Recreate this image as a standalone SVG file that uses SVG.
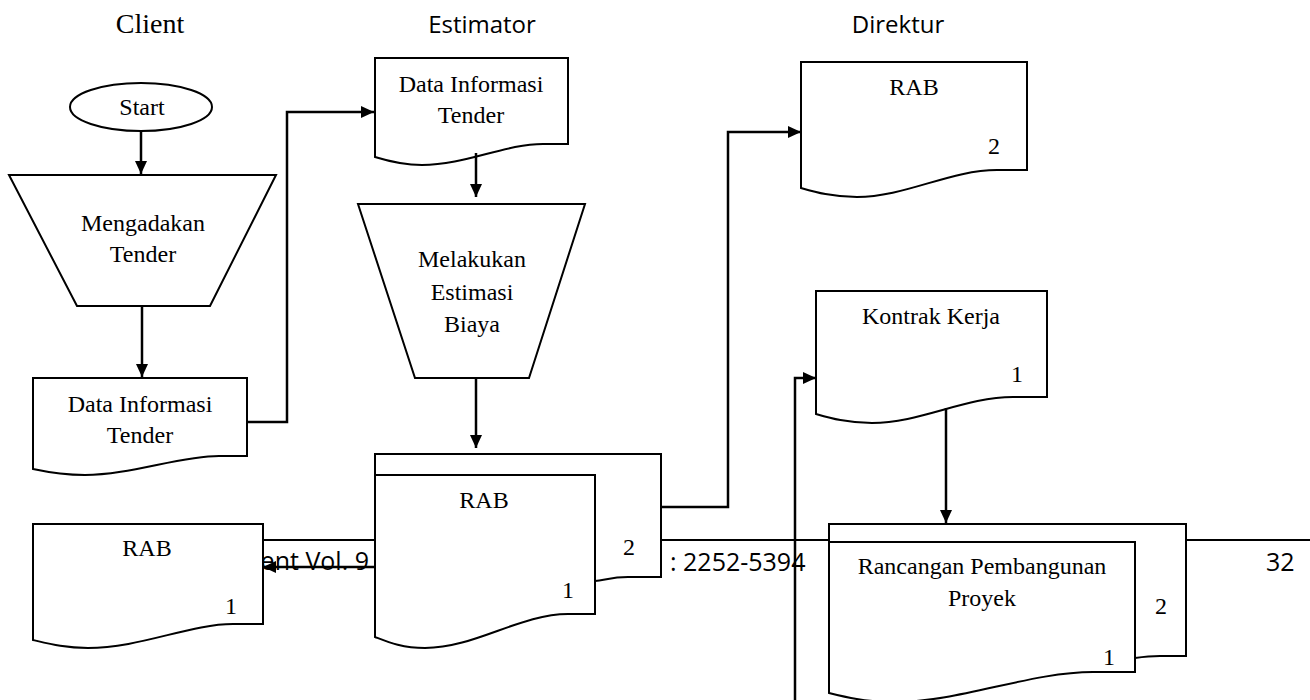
<svg xmlns="http://www.w3.org/2000/svg" width="1310" height="700" viewBox="0 0 1310 700">
<style>
.bg{fill:#fff}
.sh{fill:#fff;stroke:#000;stroke-width:2;stroke-linejoin:miter}
.t{font-family:"Liberation Serif","Times New Roman",serif;font-size:24px;fill:#000;text-anchor:middle}
.h{font-family:"Open Sans","Liberation Sans",sans-serif;font-size:24px;fill:#000;text-anchor:middle}
.f{font-family:"Open Sans","Liberation Sans",sans-serif;font-size:25px;fill:#000}
.c{fill:none;stroke:#000;stroke-width:2.5}
.ln{fill:none;stroke:#000;stroke-width:2}
</style>
<defs>
<marker id="ah" markerUnits="userSpaceOnUse" markerWidth="14" markerHeight="14" viewBox="0 0 14 14" refX="13" refY="7" orient="auto">
<path d="M0,1 L13,7 L0,13 Z" fill="#000"/>
</marker>
</defs>
<rect class="bg" x="0" y="0" width="1310" height="700"/>

<g id="page-footer">
<line class="ln" x1="40" y1="540" x2="1310" y2="540"/>
<text class="f" x="369" y="570" text-anchor="end">ent Vol. 9</text>
<text class="f" x="670" y="571">: 2252-5394</text>
<text class="f" x="1266" y="571">32</text>
</g>

<g id="lanes">
<text class="t" x="150" y="33" style="font-size:28px">Client</text>
<text class="h" x="482" y="33">Estimator</text>
<text class="h" x="898" y="33">Direktur</text>
</g>

<g id="start">
<ellipse class="sh" cx="141" cy="107" rx="71" ry="24"/>
<text class="t" x="142" y="115">Start</text>
</g>

<g id="mengadakan-tender">
<polygon class="sh" points="9,175 276,175 210,306 77,306"/>
<text class="t" x="143" y="231">Mengadakan</text>
<text class="t" x="143" y="262">Tender</text>
</g>

<g id="client-data-informasi">
<path class="sh" d="M33,378 H247 V456 H219 C180,456 130,475 85,475 C62,475 47,472 33,469 Z"/>
<text class="t" x="140" y="412">Data Informasi</text>
<text class="t" x="140" y="443">Tender</text>
</g>

<g id="client-rab">
<path class="sh" d="M33,524 H263 V624 H233 C190,624 140,648 88,648 C65,648 50,644 33,640 Z"/>
<text class="t" x="147" y="556">RAB</text>
<text class="t" x="231" y="614">1</text>
</g>

<g id="estimator-data-informasi">
<path class="sh" d="M375,58 H568 V144 H543 C505,144 465,165 422,165 C402,165 388,161 375,157 Z"/>
<text class="t" x="471" y="92">Data Informasi</text>
<text class="t" x="471" y="123">Tender</text>
</g>

<g id="melakukan-estimasi">
<polygon class="sh" points="358,204 585,204 529,378 415,378"/>
<text class="t" x="472" y="267">Melakukan</text>
<text class="t" x="472" y="300">Estimasi</text>
<text class="t" x="472" y="332">Biaya</text>
</g>

<g id="estimator-rab">
<path class="sh" d="M375,475 V454 H661 V577 H628 C612,577 605,580 595,581 Z"/>
<path class="sh" d="M375,475 H595 V614 H568 C520,614 475,648 425,648 C402,648 388,642 375,637 Z"/>
<text class="t" x="484" y="508">RAB</text>
<text class="t" x="629" y="555">2</text>
<text class="t" x="568" y="598">1</text>
</g>

<g id="direktur-rab">
<path class="sh" d="M801,62 H1027 V170 H997 C950,170 905,197 857,197 C832,197 815,192 801,188 Z"/>
<text class="t" x="914" y="95">RAB</text>
<text class="t" x="994" y="154">2</text>
</g>

<g id="kontrak-kerja">
<path class="sh" d="M816,291 H1047 V397 H1013 C965,397 920,423 872,423 C847,423 830,418 816,414 Z"/>
<text class="t" x="931" y="324">Kontrak Kerja</text>
<text class="t" x="1017" y="382">1</text>
</g>

<g id="rancangan-pembangunan">
<path class="sh" d="M829,542 V524 H1186 V656 H1160 C1150,656 1142,657 1135,658 Z"/>
<path class="sh" d="M829,542 H1135 V672 H1093 C1030,672 960,702 895,702 C865,702 845,697 829,693 Z"/>
<text class="t" x="982" y="574">Rancangan Pembangunan</text>
<text class="t" x="982" y="606">Proyek</text>
<text class="t" x="1161" y="614">2</text>
<text class="t" x="1109" y="665">1</text>
</g>

<g id="connectors">
<path class="c" d="M141,131 V174" marker-end="url(#ah)"/>
<path class="c" d="M142,306 V377" marker-end="url(#ah)"/>
<path class="c" d="M247,422 H287 V112 H374" marker-end="url(#ah)"/>
<path class="c" d="M476,153 V197" marker-end="url(#ah)"/>
<path class="c" d="M476,378 V448" marker-end="url(#ah)"/>
<path class="c" d="M661,507 H728 V132 H801" marker-end="url(#ah)"/>
<path class="c" d="M375,567 H263" marker-end="url(#ah)"/>
<path class="c" d="M795,700 V378 H816" marker-end="url(#ah)"/>
<path class="c" d="M946,408 V523" marker-end="url(#ah)"/>
</g>
</svg>
